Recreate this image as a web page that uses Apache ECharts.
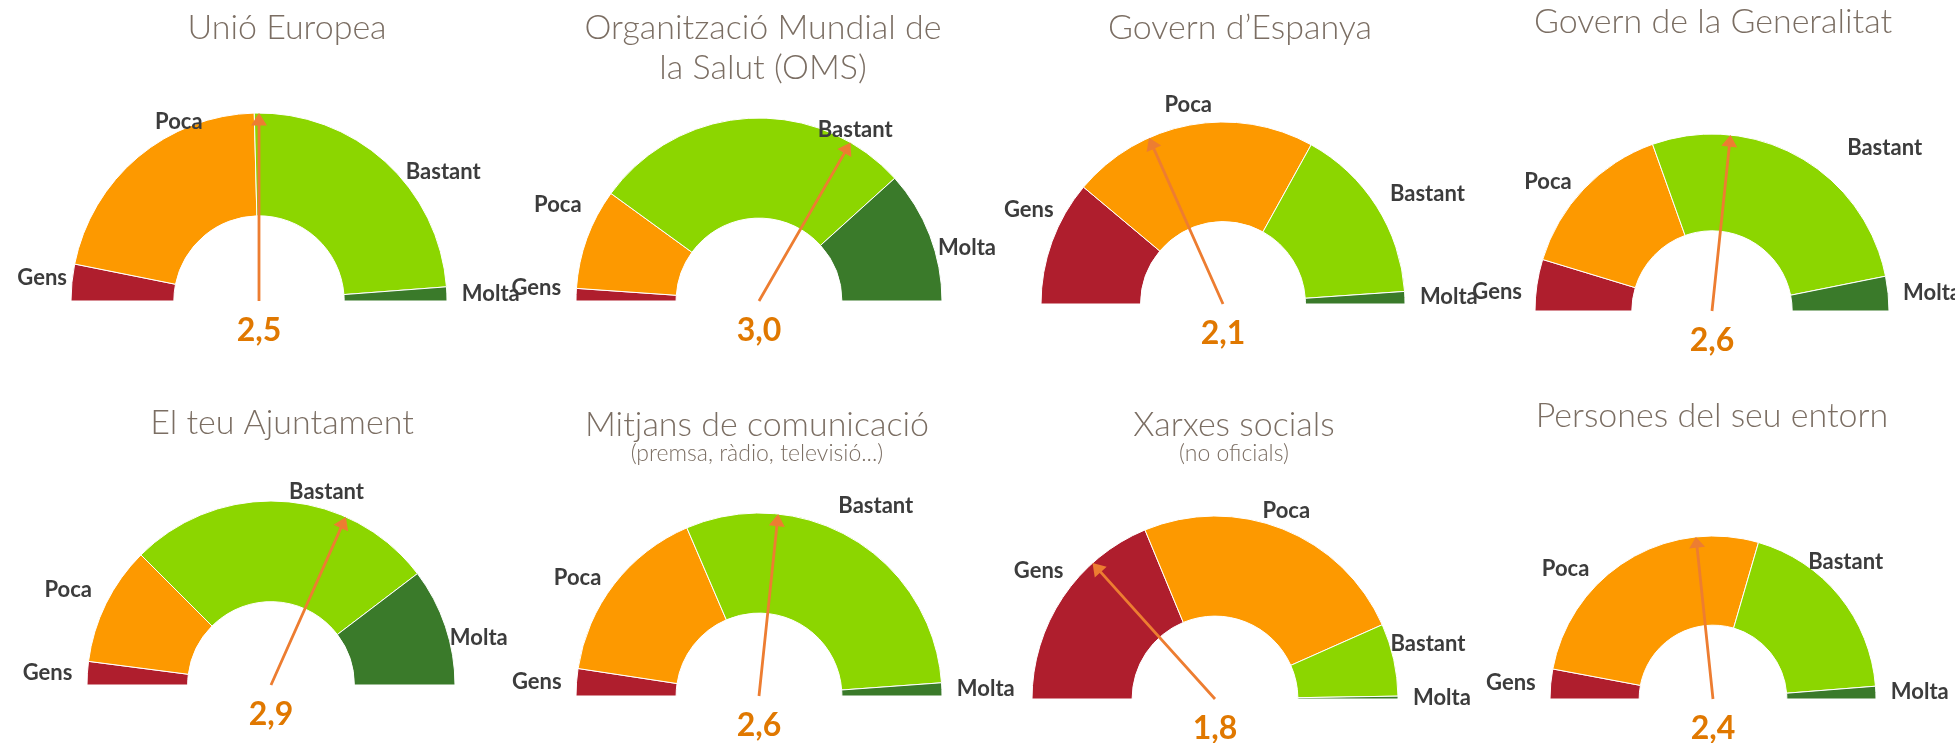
<!DOCTYPE html>
<html>
<head>
<meta charset="utf-8">
<title>Confiança en les fonts d'informació</title>
<script src="https://cdn.jsdelivr.net/npm/echarts@6/dist/echarts.min.js"></script>
<style>
  html, body { margin: 0; padding: 0; background: #fff; }
  #chart { width: 1955px; height: 743px; }
</style>
</head>
<body>
<div id="chart"></div>
<script>
// categories
const levels = ['Gens', 'Poca', 'Bastant', 'Molta'];
const titles = [
  'Unió Europea',
  'Organització Mundial de\nla Salut (OMS)',
  'Govern d’Espanya',
  'Govern de la Generalitat',
  'El teu Ajuntament',
  'Mitjans de comunicació',
  'Xarxes socials',
  'Persones del seu entorn'
];
const subtitles = ['', '', '', '', '', '(premsa, ràdio, televisió...)', '(no oficials)', ''];

// % of answers for each level, one value per source
const gens    = [6.3, 2.2, 22.2, 9.4, 4.1, 4.8, 37.5, 5.9];
const poca    = [42.9, 17.8, 43.9, 29.7, 20.9, 32.3, 49.2, 53.1];
const bastant = [48.4, 56.6, 31.7, 54.6, 54.3, 60.6, 12.8, 38.5];
const molta   = [2.4, 23.4, 2.2, 6.3, 20.7, 2.3, 0.5, 2.5];

// mean score, scale 1 (gens) .. 4 (molta)
const scores = [2.5, 3.0, 2.1, 2.6, 2.9, 2.6, 1.8, 2.4];

// layout of the 8 panels (gauge centre, outer radius, title anchor)
const panels = [
  { cx: 259,  cy: 301, r: 188, tx: 282,  ty: 3 },
  { cx: 759,  cy: 301, r: 183, tx: 758,  ty: 3 },
  { cx: 1223, cy: 304, r: 182, tx: 1235, ty: 3 },
  { cx: 1712, cy: 311, r: 177, tx: 1708, ty: -3 },
  { cx: 271,  cy: 685, r: 184, tx: 277,  ty: 398 },
  { cx: 759,  cy: 696, r: 183, tx: 752,  ty: 400 },
  { cx: 1215, cy: 699, r: 183, tx: 1229, ty: 400 },
  { cx: 1713, cy: 699, r: 163, tx: 1707, ty: 391 }
];

// hand placement of some level labels, [dx, dy] per level, like the original
const labelNudge = [
  [[10, -4], [76, -28], [9, 18], [0, 0]],
  [[0, -6], [9, -30], [149, 22], [-6, 16]],
  [[16, -28], [29, -10], [0, -7], [0, 0]],
  [[0, 8], [0, 0], [38, 0], [0, 0]],
  [[0, 0], [0, -9], [0, 0], [-10, 15]],
  [[0, 0], [0, 0], [-26, -25], [0, 0]],
  [[14, -21], [-29, -9], [-18, -14], [0, 0]],
  [[0, 0], [-28, 17], [-44, -28], [0, 0]]
];

const colors = ['#AF1E2D', '#FD9900', '#8CD600', '#3A7A2A'];
const arrow = 'path://M8,0 L16,12 L9.4,12 L9.4,180 L6.6,180 L6.6,12 L0,12 Z';

const chart = echarts.init(document.getElementById('chart'));

const title = panels.map((p, i) => ({
  text: titles[i],
  subtext: subtitles[i],
  left: p.tx,
  top: p.ty,
  textAlign: 'center',
  itemGap: -4,
  textStyle: { fontFamily: 'Lato', fontWeight: 300, fontSize: 34, lineHeight: 40, color: '#7B6E63' },
  subtextStyle: { fontFamily: 'Lato', fontWeight: 300, fontSize: 23, lineHeight: 26, color: '#7B6E63' }
}));

const pies = panels.map((p, i) => {
  const vals = [gens[i], poca[i], bastant[i], molta[i]];
  return {
    type: 'pie',
    center: [p.cx, p.cy],
    radius: [p.r * 0.453, p.r],
    startAngle: 180,
    endAngle: 360,
    silent: true,
    z: 2,
    itemStyle: { borderColor: '#fff', borderWidth: 1 },
    label: {
      show: true,
      position: 'outside',
      formatter: '{b}',
      width: 140,
      overflow: 'none',
      fontFamily: 'Lato',
      fontWeight: 'bold',
      fontSize: 22,
      color: '#3C3C3C'
    },
    labelLine: { show: false, length: 10, length2: 0 },
    labelLayout: params => ({
      hideOverlap: false,
      dx: labelNudge[i][params.dataIndex][0],
      dy: labelNudge[i][params.dataIndex][1]
    }),
    data: levels.map((name, k) => ({ name: name, value: vals[k] }))
  };
});

const gauges = panels.map((p, i) => ({
  type: 'gauge',
  center: [p.cx, p.cy],
  radius: p.r,
  startAngle: 180,
  endAngle: 0,
  min: 1,
  max: 4,
  silent: true,
  z: 10,
  axisLine: { show: false },
  splitLine: { show: false },
  axisTick: { show: false },
  axisLabel: { show: false },
  anchor: { show: false },
  title: { show: false },
  pointer: { icon: arrow, length: '100%', width: 16, itemStyle: { color: '#ED7D31' } },
  detail: {
    offsetCenter: [0, 30],
    formatter: v => v.toFixed(1).replace('.', ','),
    fontFamily: 'Lato',
    fontWeight: 'bold',
    fontSize: 32,
    color: '#E07800'
  },
  data: [{ value: scores[i] }]
}));

chart.setOption({
  animation: false,
  color: colors,
  title: title,
  series: pies.concat(gauges)
});
</script>
</body>
</html>
